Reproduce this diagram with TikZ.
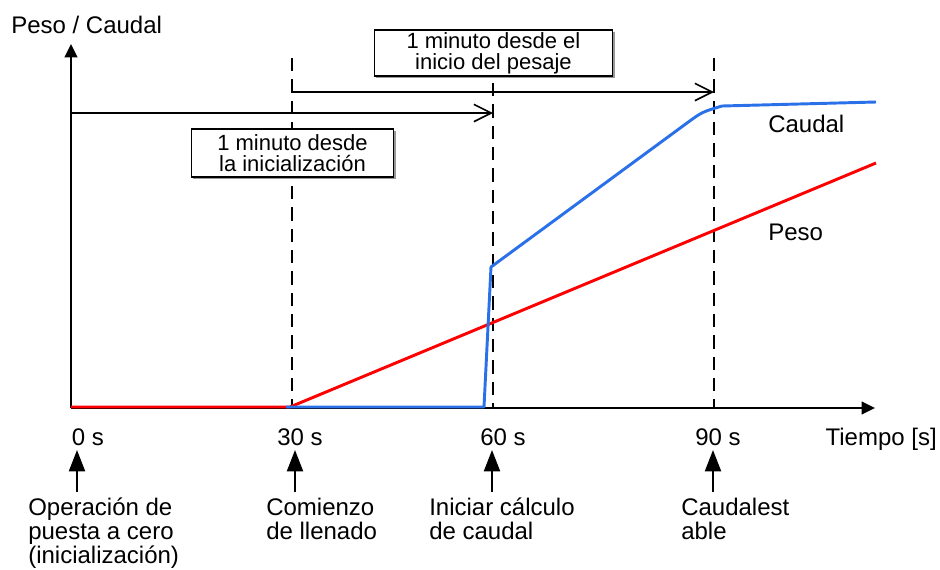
\documentclass[tikz,border=0pt]{standalone}
\usepackage{fontspec}
\setmainfont{Liberation Sans}
\usetikzlibrary{positioning, arrows.meta, shadows}

\definecolor{flowblue}{RGB}{42,112,232}

\tikzset{
	axisline/.style={line width=1.5pt, -{Triangle[length=10pt,width=9.5pt]}},
	guide/.style={line width=1.4pt, dash pattern=on 10pt off 6pt},
	spanarrow/.style={line width=1.2pt, -{Straight Barb[length=13pt,width=13pt,line width=1.2pt]}},
	notebox/.style={draw, line width=0.8pt, fill=white, align=center, inner sep=0pt,
		font=\fontsize{16.5}{16}\selectfont,
		drop shadow={shadow xshift=1.4pt, shadow yshift=-1.4pt, fill=black!40, opacity=1}},
	plainlabel/.style={inner sep=0pt, font=\fontsize{18}{18}\selectfont},
	ticklabel/.style={plainlabel, anchor=base},
	eventarrow/.style={line width=1.5pt, -{Triangle[length=16pt,width=12pt]}},
	evlabel/.style={anchor=north west, align=left, inner sep=0pt, font=\fontsize{18}{18}\selectfont},
	pesoline/.style={red, line width=2.2pt, line join=round},
	caudalline/.style={flowblue, line width=2.2pt, line join=round},
}

\begin{document}
\begin{tikzpicture}[x=0.75pt,y=-0.75pt]
	\useasboundingbox (0,0) rectangle (940,569);
	% axes
	\coordinate (orig) at (71,408);
	\coordinate (ytop) at (71,44);
	\coordinate (xend) at (875,408);
	% guide lines
	\coordinate (g30t) at (292,58);
	\coordinate (g30b) at (292,408);
	\coordinate (g60t) at (493,83);
	\coordinate (g60b) at (493,408);
	\coordinate (g90t) at (714,58);
	\coordinate (g90b) at (714,408);
	\draw[guide] (g30t)--(g30b);
	\draw[guide] (g60t)--(g60b);
	\draw[guide] (g90t)--(g90b);
	% time spans
	\coordinate (s1a) at (71,113);
	\coordinate (s1b) at (493,113);
	\coordinate (s2a) at (292,92);
	\coordinate (s2b) at (714,92);
	\draw[spanarrow] (s1a)--(s1b);
	\draw[spanarrow] (s2a)--(s2b);
	\node[notebox, minimum width=152pt, minimum height=36pt] (init) at (292.5,153)
		{1 minuto desde\\la inicialización};
	\node[notebox, minimum width=179pt, minimum height=34.5pt] (pesaje) at (493.5,53)
		{1 minuto desde el\\inicio del pesaje};
	\draw[axisline] (orig)--(ytop);
	\draw[axisline] (orig)--(xend);
	% curves
	\draw[pesoline] (71,407)--(290,407)--(876,163);
	\draw[caudalline] (286,407)--(484,407)--(491,267)--(687,123)
		.. controls (702,112) .. (722,106)--(876,102);
	% labels
	\node[plainlabel, anchor=base west] (ylab) at (11,33) {Peso / Caudal};
	\node[plainlabel, anchor=base west] (caudal) at (768,132) {Caudal};
	\node[plainlabel, anchor=base west] (peso) at (768,240) {Peso};
	\node[ticklabel] (t0) at (88,445) {0 s};
	\node[ticklabel] (t30) at (300,445) {30 s};
	\node[ticklabel] (t60) at (503,445) {60 s};
	\node[ticklabel] (t90) at (718,445) {90 s};
	\node[ticklabel, anchor=base east] (tlab) at (937,445) {Tiempo [s]};
	% events
	\node[evlabel] (e0) at (28,498) {Operación de\\puesta a cero\\(inicialización)};
	\node[evlabel] (e30) at (266,498) {Comienzo\\de llenado};
	\node[evlabel] (e60) at (429,498) {Iniciar cálculo\\de caudal};
	\node[evlabel] (e90) at (681,498) {Caudalest\\able};
	\coordinate (a0b) at (77,492);
	\coordinate (a0t) at (77,450);
	\coordinate (a30b) at (295,492);
	\coordinate (a30t) at (295,450);
	\coordinate (a60b) at (492,492);
	\coordinate (a60t) at (492,450);
	\coordinate (a90b) at (713,492);
	\coordinate (a90t) at (713,450);
	\draw[eventarrow] (a0b)--(a0t);
	\draw[eventarrow] (a30b)--(a30t);
	\draw[eventarrow] (a60b)--(a60t);
	\draw[eventarrow] (a90b)--(a90t);
\end{tikzpicture}
\end{document}
